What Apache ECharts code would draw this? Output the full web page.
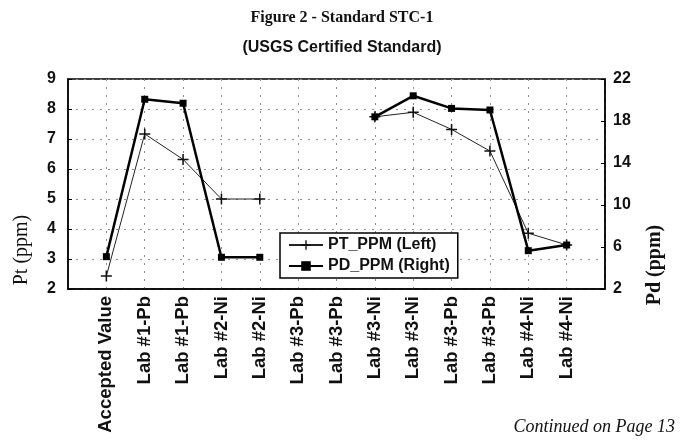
<!DOCTYPE html>
<html>
<head>
<meta charset="utf-8">
<script src="https://cdn.jsdelivr.net/npm/echarts@6/dist/echarts.min.js"></script>
<style>
  html, body { margin: 0; padding: 0; background: #fff; }
  #chart { width: 684px; height: 445px; }
</style>
</head>
<body>
<div id="chart"></div>
<script>
// data
const categories = ['Accepted Value', 'Lab #1-Pb', 'Lab #1-Pb', 'Lab #2-Ni', 'Lab #2-Ni',
  'Lab #3-Pb', 'Lab #3-Pb', 'Lab #3-Ni', 'Lab #3-Ni', 'Lab #3-Pb', 'Lab #3-Pb', 'Lab #4-Ni', 'Lab #4-Ni'];
const ptPpm = [2.43, 7.17, 6.32, 5.0, 5.0, null, null, 7.74, 7.89, 7.32, 6.6, 3.86, 3.47];
const pdPpm = [5.08, 20.07, 19.69, 5.02, 5.02, null, null, 18.4, 20.4, 19.2, 19.05, 5.65, 6.19];
const leftTicks = { min: 2, max: 9, interval: 1 };
const rightTicks = { min: 2, max: 22, interval: 4 };

// one empty slot each side, like the original plot
const axisCats = [''].concat(categories, ['']);
const pad = (arr) => [null].concat(arr, [null]);

var chartDom = document.getElementById('chart');
var myChart = echarts.init(chartDom);

const plus = 'path://M4.3,0h1.4v4.3h4.3v1.4h-4.3v4.3h-1.4v-4.3h-4.3v-1.4h4.3z';
const grid = { type: [2, 6], color: '#8a8a8a', width: 1 };

var option = {
  animation: false,
  title: [
    {
      text: 'Figure 2 - Standard STC-1',
      left: 'center', top: 5,
      textStyle: { fontFamily: 'Liberation Serif', fontWeight: 'bold', fontSize: 16, color: '#111' }
    },
    {
      text: '(USGS Certified Standard)',
      left: 'center', top: 35,
      textStyle: { fontFamily: 'Liberation Sans', fontWeight: 'bold', fontSize: 16, color: '#111' }
    }
  ],
  grid: {
    left: 68, right: 79, top: 79, bottom: 156,
    show: true, borderColor: '#000', borderWidth: 1.5
  },
  legend: {
    orient: 'vertical',
    left: 280, top: 233,
    padding: [4, 8, 4, 8],
    itemGap: 5,
    itemWidth: 34, itemHeight: 12,
    backgroundColor: '#fff',
    borderColor: '#000', borderWidth: 1.5, borderRadius: 0,
    textStyle: { fontFamily: 'Liberation Sans', fontWeight: 'bold', fontSize: 16, color: '#111' },
    data: ['PT_PPM (Left)', 'PD_PPM (Right)']
  },
  xAxis: {
    type: 'category',
    data: axisCats,
    boundaryGap: false,
    axisLine: { lineStyle: { color: '#000', width: 1.5 } },
    axisTick: { show: false },
    splitLine: { show: true, lineStyle: grid },
    axisLabel: {
      rotate: 90, interval: 0, margin: 7,
      fontFamily: 'Liberation Sans', fontWeight: 'bold', fontSize: 18.5, color: '#111'
    }
  },
  yAxis: [
    {
      type: 'value',
      min: leftTicks.min, max: leftTicks.max, interval: leftTicks.interval,
      axisLine: { show: true, lineStyle: { color: '#000', width: 1.5 } },
      axisTick: { show: true, inside: true, length: 4, lineStyle: { color: '#000' } },
      splitLine: { show: true, lineStyle: grid },
      axisLabel: { margin: 12, fontFamily: 'Liberation Sans', fontWeight: 'bold', fontSize: 16, color: '#111' }
    },
    {
      type: 'value',
      min: rightTicks.min, max: rightTicks.max, interval: rightTicks.interval,
      axisLine: { show: true, lineStyle: { color: '#000', width: 1.5 } },
      axisTick: { show: true, inside: true, length: 4, lineStyle: { color: '#000' } },
      splitLine: { show: false },
      axisLabel: { margin: 8, fontFamily: 'Liberation Sans', fontWeight: 'bold', fontSize: 16, color: '#111' }
    }
  ],
  series: [
    {
      name: 'PT_PPM (Left)',
      type: 'line',
      yAxisIndex: 0,
      data: pad(ptPpm),
      connectNulls: false,
      symbol: plus, symbolSize: 11,
      lineStyle: { color: '#222', width: 1 },
      itemStyle: { color: '#111' },
      z: 3
    },
    {
      name: 'PD_PPM (Right)',
      type: 'line',
      yAxisIndex: 1,
      data: pad(pdPpm),
      connectNulls: false,
      symbol: 'rect', symbolSize: 7,
      lineStyle: { color: '#000', width: 2.5 },
      itemStyle: { color: '#000' },
      z: 4
    }
  ],
  graphic: [
    {
      type: 'text', x: 22, y: 250, rotation: Math.PI / 2,
      style: { text: 'Pt (ppm)', font: '20px "Liberation Serif"', fill: '#111', align: 'center', verticalAlign: 'middle' }
    },
    {
      type: 'text', x: 655, y: 265, rotation: Math.PI / 2,
      style: { text: 'Pd (ppm)', font: 'bold 20px "Liberation Serif"', fill: '#111', align: 'center', verticalAlign: 'middle' }
    },
    {
      type: 'text', x: 675, y: 427,
      style: { text: 'Continued on Page 13', font: 'italic 18px "Liberation Serif"', fill: '#111', align: 'right', verticalAlign: 'middle' }
    }
  ]
};

option && myChart.setOption(option);
</script>
</body>
</html>
